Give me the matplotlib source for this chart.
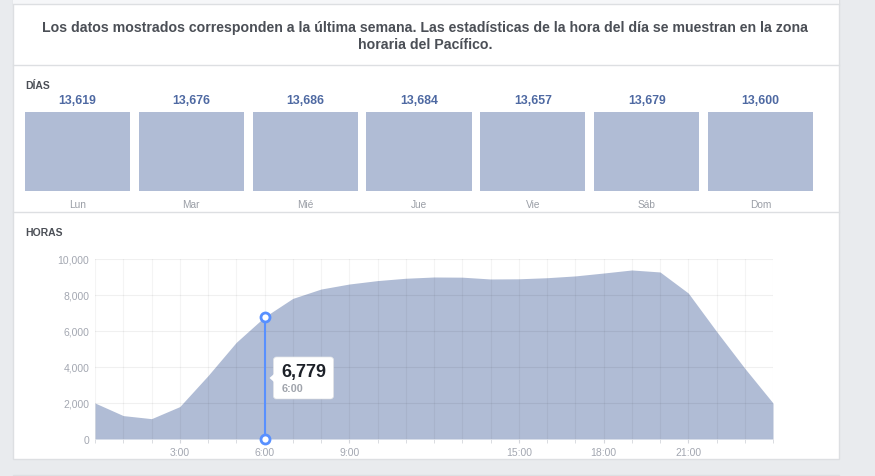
import matplotlib
matplotlib.use('Agg')
import matplotlib.pyplot as plt
import matplotlib.transforms as mtransforms
from matplotlib.patches import Rectangle, FancyBboxPatch, Polygon

plt.rcParams['font.family'] = ['Liberation Sans', 'DejaVu Sans']

# datos
dias = ['Lun', 'Mar', 'Mié', 'Jue', 'Vie', 'Sáb', 'Dom']
valores_dias = [13619, 13676, 13686, 13684, 13657, 13679, 13600]

horas = list(range(25))
valores_horas = [2000, 1300, 1130, 1800, 3520, 5370, 6779, 7810, 8330, 8610,
                 8800, 8930, 9000, 8990, 8890, 8900, 8960, 9060, 9220, 9390,
                 9280, 8110, 5980, 3930, 2000]
ticks_horas = [3, 6, 9, 15, 18, 21]
etiquetas_horas = ['3:00', '6:00', '9:00', '15:00', '18:00', '21:00']
hora_sel = 6

titulo = ('Los datos mostrados corresponden a la última semana. Las estadísticas de la hora del día se muestran en la zona\n'
          'horaria del Pacífico.')

W, H = 875, 477
BAR = '#b0bcd5'
GRIS_FONDO = '#e9ebee'
BORDE = '#dddfe2'
TXT = '#4b4f56'
TXT_GRIS = '#90949c'


def fx(px):
    return px / W


def fy(py):
    return 1 - py / H


fig = plt.figure(figsize=(W / 100, H / 100), dpi=100)
fig.patch.set_facecolor(GRIS_FONDO)

# fondo / tarjeta en pixeles
bg = fig.add_axes([0, 0, 1, 1])
bg.set_xlim(0, W)
bg.set_ylim(H, 0)
bg.axis('off')
bg.add_patch(Rectangle((12.5, -5), 826, 464.5, fc='white', ec=BORDE, lw=1))
bg.add_patch(Rectangle((13, 0), 825, 4.5, fc='#f6f7f9', ec='none'))
bg.plot([12.5, 838.5], [4.5, 4.5], color=BORDE, lw=1)
bg.plot([12.5, 838.5], [66, 66], color=BORDE, lw=1)
bg.plot([12.5, 838.5], [213, 213], color=BORDE, lw=1)
bg.add_patch(Rectangle((12.5, 475.5), 826, 10, fc='white', ec=BORDE, lw=1))

bg.text(425.5, 36.5, titulo, ha='center', va='center', fontsize=10.2,
        fontweight='bold', color=TXT, linespacing=1.35)
bg.text(25, 86, 'DÍAS', ha='left', va='center', fontsize=7.5, fontweight='bold', color=TXT)
bg.text(25, 233, 'HORAS', ha='left', va='center', fontsize=7.5, fontweight='bold', color=TXT)

# barras por día
axd = fig.add_axes([fx(25), fy(192), fx(813) - fx(25), fy(113) - fy(192)])
ancho = 105 / 113.8
axd.bar(range(len(dias)), valores_dias, width=ancho, color=BAR)
axd.set_xlim(-ancho / 2, len(dias) - 1 + ancho / 2)
axd.set_ylim(0, max(valores_dias))
axd.set_xticks(range(len(dias)))
axd.set_xticklabels(dias, fontsize=7.3, color='#9a9ea6')
axd.tick_params(axis='x', length=0, pad=5.5)
axd.set_yticks([])
for s in axd.spines.values():
    s.set_visible(False)
axd.patch.set_alpha(0)
for i, v in enumerate(valores_dias):
    axd.annotate(f'{v:,}', (i, max(valores_dias)), xytext=(0, 8.6), textcoords='offset points',
                 ha='center', va='center', fontsize=8.8, fontweight='bold', color='#4e69a2')

# área por hora
axh = fig.add_axes([fx(95), fy(440), fx(773) - fx(95), fy(260) - fy(440)])
axh.fill_between(horas, valores_horas, 0, color=BAR, lw=0, zorder=1)
axh.set_xlim(0, 24)
axh.set_ylim(0, 10000)
for h in horas:
    axh.axvline(h, color='black', alpha=0.045, lw=0.8, zorder=2)
for yv in range(0, 10001, 2000):
    axh.axhline(yv, color='black', alpha=0.06, lw=0.8, zorder=2)
axh.set_yticks(range(0, 10001, 2000))
axh.set_yticklabels([f'{v:,}' for v in range(0, 10001, 2000)], fontsize=7.5, color='#a3a7b1')
axh.set_xticks(horas, minor=True)
axh.set_xticks(ticks_horas)
axh.set_xticklabels(etiquetas_horas, fontsize=7.5, color='#a3a7b1')
axh.tick_params(axis='y', length=0, pad=4)
axh.tick_params(axis='x', which='both', length=3, color='#d5d7dc', pad=2.5)
for s in axh.spines.values():
    s.set_visible(False)
axh.patch.set_alpha(0)

# marcador de la hora seleccionada
v_sel = valores_horas[hora_sel]
axh.plot([hora_sel, hora_sel], [0, v_sel], color='#5890ff', lw=1.5, zorder=4)
axh.plot([hora_sel, hora_sel], [0, v_sel], 'o', ms=6.5, mfc='white', mec='#5890ff',
         mew=2, zorder=5, clip_on=False)

# tooltip anclado a la mitad de la línea
fig.canvas.draw()
ax_px, ay_px = axh.transData.transform((hora_sel, v_sel / 2))
tr = mtransforms.Affine2D().translate(ax_px, ay_px)
fig.add_artist(FancyBboxPatch((10, -20), 59, 40, boxstyle='round,pad=0,rounding_size=3',
                              fc='black', ec='none', alpha=0.08, transform=tr + mtransforms.Affine2D().translate(0, -1.5)))
fig.add_artist(FancyBboxPatch((9, -21), 60, 42, boxstyle='round,pad=0,rounding_size=3',
                              fc='white', ec='#e3e5e8', lw=0.5, transform=tr))
fig.add_artist(Polygon([(9.5, -4), (5, 0), (9.5, 4)], closed=True, fc='white', ec='none', transform=tr))
fig.text(ax_px + 16.5, ay_px + 6, f'{v_sel:,}', transform=None, ha='left', va='center',
         fontsize=13, fontweight='bold', color='#1d2129')
fig.text(ax_px + 17, ay_px - 10, f'{hora_sel}:00', transform=None, ha='left', va='center',
         fontsize=7.8, fontweight='bold', color='#a0a4ac')

fig.savefig('out.png', dpi=100, facecolor=fig.get_facecolor())
